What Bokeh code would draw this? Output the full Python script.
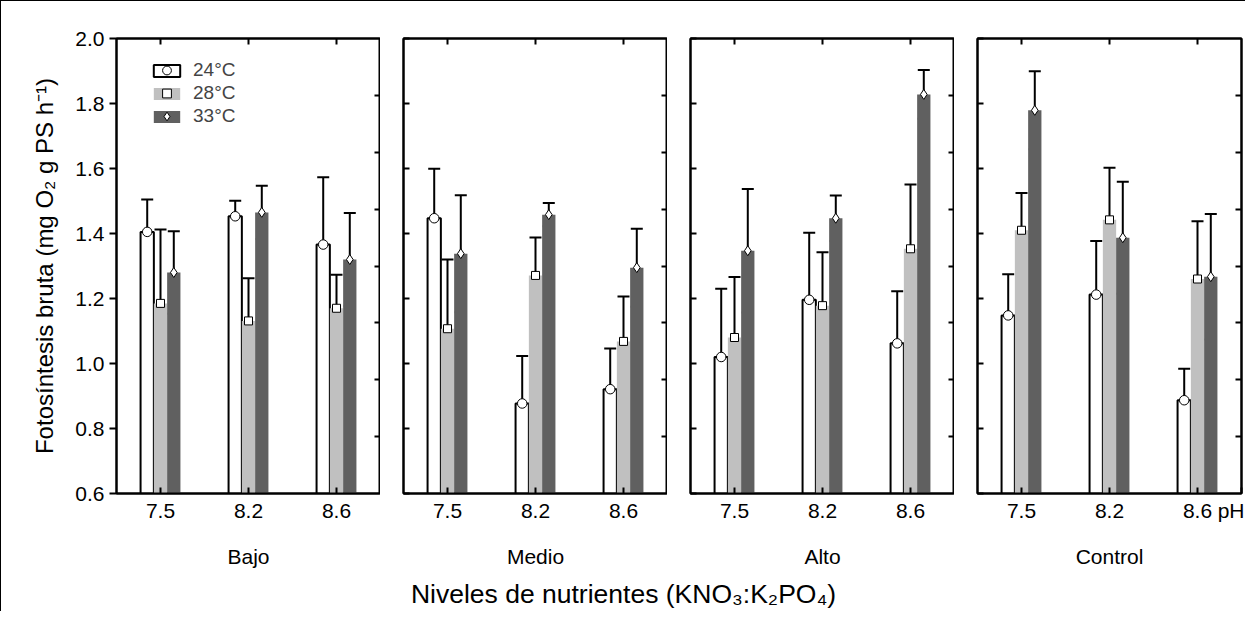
from bokeh.plotting import figure
from bokeh.models import (Range1d, LinearAxis, FixedTicker, Whisker, TeeHead,
                          ColumnDataSource, Legend, LegendItem, NumeralTickFormatter)
from bokeh.transform import dodge
from bokeh.layouts import row, column
from bokeh.embed import file_html
from bokeh.resources import INLINE

# ---------------- data ----------------
ph_levels = ["7.5", "8.2", "8.6"]
nutrient_levels = ["Bajo", "Medio", "Alto", "Control"]
temps = ["24°C", "28°C", "33°C"]

bajo_24 = [1.405, 1.453, 1.366]
bajo_24_err = [0.100, 0.048, 0.207]
bajo_28 = [1.185, 1.131, 1.170]
bajo_28_err = [0.227, 0.131, 0.103]
bajo_33 = [1.280, 1.465, 1.320]
bajo_33_err = [0.127, 0.082, 0.143]

medio_24 = [1.447, 0.877, 0.921]
medio_24_err = [0.152, 0.146, 0.125]
medio_28 = [1.107, 1.271, 1.068]
medio_28_err = [0.213, 0.117, 0.138]
medio_33 = [1.338, 1.458, 1.295]
medio_33_err = [0.180, 0.036, 0.120]

alto_24 = [1.020, 1.196, 1.062]
alto_24_err = [0.210, 0.206, 0.160]
alto_28 = [1.080, 1.178, 1.353]
alto_28_err = [0.186, 0.164, 0.198]
alto_33 = [1.347, 1.447, 1.828]
alto_33_err = [0.190, 0.070, 0.075]

control_24 = [1.148, 1.212, 0.887]
control_24_err = [0.127, 0.165, 0.097]
control_28 = [1.410, 1.442, 1.260]
control_28_err = [0.115, 0.160, 0.178]
control_33 = [1.779, 1.387, 1.267]
control_33_err = [0.120, 0.172, 0.193]

y_ticks = [0.6, 0.8, 1.0, 1.2, 1.4, 1.6, 1.8, 2.0]
right_ticks = [0.775, 0.95, 1.125, 1.3, 1.475, 1.65, 1.825]
axis_unit_label = "pH"

panel_data = {
    "Bajo": [(bajo_24, bajo_24_err), (bajo_28, bajo_28_err), (bajo_33, bajo_33_err)],
    "Medio": [(medio_24, medio_24_err), (medio_28, medio_28_err), (medio_33, medio_33_err)],
    "Alto": [(alto_24, alto_24_err), (alto_28, alto_28_err), (alto_33, alto_33_err)],
    "Control": [(control_24, control_24_err), (control_28, control_28_err), (control_33, control_33_err)],
}

# ---------------- style ----------------
FONT = "Liberation Sans"
bar_fill = ["white", "#c0c0c0", "#606060"]
bar_line = ["black", None, None]
markers = ["circle", "square", "diamond"]
marker_sizes = [9.5, 8, 10]
offsets = [-0.151, 0.0, 0.151]
BAR_W = 0.151

# category centres on a 0..3 axis (one unit per pH level)
ph_pos = [k + 0.5 for k in range(len(ph_levels))]
n_ph = len(ph_levels)

ROW_H = 570


def style_axis(ax):
    ax.axis_line_color = "black"
    ax.axis_line_width = 2
    ax.major_tick_line_color = "black"
    ax.major_tick_line_width = 2
    ax.minor_tick_line_color = None
    ax.major_label_text_font = FONT
    ax.axis_label_text_font = FONT
    ax.axis_label_text_font_style = "normal"
    ax.axis_label_text_color = "black"
    ax.major_label_text_color = "black"


def hide_labels(ax):
    ax.major_label_text_color = None
    ax.major_label_text_font_size = "0px"
    ax.major_label_standoff = 0


figs = []
for i, lvl in enumerate(nutrient_levels):
    first = i == 0
    last = i == len(nutrient_levels) - 1
    bl = 115 if first else 23
    br_ = 3 if last else 0
    width = (104 if first else 12) + 264 + (14 if last else 11)
    p = figure(x_range=Range1d(0, n_ph), y_range=Range1d(0.6, 2.0),
               width=width, height=ROW_H,
               min_border_left=bl, min_border_right=br_,
               min_border_top=37, min_border_bottom=ROW_H - 37 - 455,
               x_axis_location=None, y_axis_location=None,
               toolbar_location=None, output_backend="svg")
    p.xgrid.visible = False
    p.ygrid.visible = False
    p.outline_line_color = "black"
    p.outline_line_width = 2
    p.background_fill_color = "white"
    p.border_fill_color = "white"

    # bottom axis: pH levels (+ unit label at the end of the last panel)
    bt = list(ph_pos) + ([float(n_ph)] if last else [])
    overrides = {pos: lab for pos, lab in zip(ph_pos, ph_levels)}
    if last:
        overrides[float(n_ph)] = axis_unit_label
    below = LinearAxis(ticker=FixedTicker(ticks=bt), major_label_overrides=overrides,
                       axis_label=lvl)
    style_axis(below)
    below.major_tick_in = 6
    below.major_tick_out = 0
    below.major_label_text_font_size = "21px"
    below.major_label_standoff = 5 if last else 10
    below.axis_label_text_font_size = "21px"
    below.axis_label_standoff = 20 if last else 24
    p.add_layout(below, "below")

    above = LinearAxis(ticker=FixedTicker(ticks=ph_pos))
    style_axis(above)
    above.major_tick_in = 6
    above.major_tick_out = 0
    hide_labels(above)
    p.add_layout(above, "above")

    left = LinearAxis(ticker=FixedTicker(ticks=y_ticks),
                      formatter=NumeralTickFormatter(format="0.0"))
    style_axis(left)
    if first:
        left.major_tick_in = 0
        left.major_tick_out = 7
        left.major_label_text_font_size = "21px"
        left.major_label_standoff = 5
        left.axis_label = "Fotosíntesis bruta (mg O₂ g PS h⁻¹)"
        left.axis_label_text_font_size = "24px"
        left.axis_label_standoff = 14
    else:
        left.major_tick_in = 6
        left.major_tick_out = 0
        hide_labels(left)
    p.add_layout(left, "left")

    right = LinearAxis(ticker=FixedTicker(ticks=right_ticks))
    style_axis(right)
    right.major_tick_in = 6
    right.major_tick_out = 0
    hide_labels(right)
    p.add_layout(right, "right")

    bar_items, mark_items = [], []
    groups = []
    for j, (vals, errs) in enumerate(panel_data[lvl]):
        src = ColumnDataSource(data=dict(
            x=ph_pos, mean=vals,
            upper=[v + e for v, e in zip(vals, errs)],
            lower=[v - e for v, e in zip(vals, errs)]))
        xs = dodge("x", offsets[j])
        bar = p.vbar(x=xs, top="mean", bottom=0, width=BAR_W, source=src,
                     fill_color=bar_fill[j], line_color=bar_line[j], line_width=2)
        groups.append((bar, src, xs))
    for j, (bar, src, xs) in enumerate(groups):
        w = Whisker(source=src, base=xs, upper="upper", lower="lower",
                    line_color="black", line_width=2,
                    upper_head=TeeHead(size=12, line_width=2, line_color="black"),
                    lower_head=TeeHead(size=12, line_width=2, line_color="black"))
        p.add_layout(w)
    for j, (bar, src, xs) in enumerate(groups):
        sc = p.scatter(x=xs, y="mean", source=src, marker=markers[j], size=marker_sizes[j],
                       fill_color="white", line_color="black", line_width=1, level="overlay")
        bar_items.append(LegendItem(label=temps[j], renderers=[bar]))
        mark_items.append(LegendItem(label=temps[j], renderers=[sc]))

    if first:
        common = dict(location=(34, 366), padding=0, margin=0, spacing=1,
                      glyph_width=33, label_standoff=10,
                      label_text_font=FONT, label_text_font_size="19px",
                      border_line_color=None, background_fill_alpha=0)
        leg_bars = Legend(items=bar_items, glyph_height=15, **common)
        leg_marks = Legend(items=mark_items, glyph_height=22, **common)
        leg_marks.label_text_color = None
        p.add_layout(leg_bars, "center")
        p.add_layout(leg_marks, "center")
    figs.append(p)

lab = figure(width=1244, height=40, x_axis_location=None, y_axis_location=None,
             toolbar_location=None, output_backend="svg", min_border=0,
             outline_line_color=None, title_location="below")
lab.xgrid.visible = False
lab.ygrid.visible = False
lab.title.text = "Niveles de nutrientes (KNO₃:K₂PO₄)"
lab.title.align = "center"
lab.title.text_font = FONT
lab.title.text_font_size = "26.5px"
lab.title.text_font_style = "normal"
lab.title.text_color = "black"

layout = column(row(*figs), lab,
                styles={"border-left": "1px solid black", "border-top": "1px solid black"})

open("out.html", "w").write(file_html(layout, INLINE))
